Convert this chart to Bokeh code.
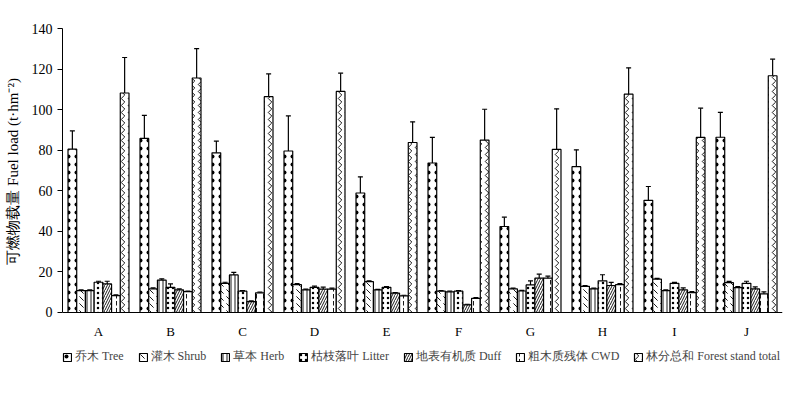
from bokeh.plotting import figure
from bokeh.models import ColumnDataSource, FactorRange, Whisker, TeeHead, Legend, LegendItem, FixedTicker
from bokeh.transform import dodge
from bokeh.embed import file_html
from bokeh.resources import INLINE

cats = ["A", "B", "C", "D", "E", "F", "G", "H", "I", "J"]

tree = [80.5, 85.8, 78.7, 79.6, 58.9, 73.7, 42.4, 71.9, 55.3, 86.4]
tree_err = [9.0, 11.4, 5.8, 17.3, 8.0, 12.6, 4.6, 8.3, 6.8, 12.3]
shrub = [10.8, 11.6, 14.4, 13.7, 15.2, 10.5, 11.6, 12.9, 16.4, 14.7]
shrub_err = [0.3, 0.5, 0.5, 0.5, 0.4, 0.3, 0.4, 0.4, 0.4, 0.6]
herb = [10.8, 16.0, 18.5, 11.1, 11.1, 10.2, 10.6, 11.6, 10.8, 12.3]
herb_err = [0.3, 0.6, 1.3, 0.4, 0.3, 0.3, 0.3, 0.4, 0.3, 0.4]
litter = [14.9, 12.4, 10.5, 12.4, 12.4, 10.5, 13.6, 15.6, 14.4, 14.4]
litter_err = [0.5, 1.7, 0.3, 0.6, 0.4, 0.3, 2.0, 3.0, 0.4, 1.0]
duff = [14.1, 11.1, 5.4, 11.5, 9.5, 3.8, 16.9, 13.3, 11.1, 11.6]
duff_err = [1.3, 0.5, 0.3, 1.0, 0.3, 0.2, 2.0, 1.5, 1.0, 1.0]
cwd = [8.3, 10.3, 9.7, 11.5, 8.2, 7.0, 16.9, 13.7, 9.8, 9.2]
cwd_err = [0.4, 0.3, 0.3, 0.5, 0.3, 0.3, 1.0, 0.5, 0.5, 1.0]
total = [108.2, 115.6, 106.4, 109.0, 83.8, 85.0, 80.4, 107.6, 86.3, 116.7]
total_err = [17.5, 14.5, 11.2, 9.0, 10.2, 15.2, 20.0, 13.0, 14.4, 8.2]

series_names = ["乔木 Tree", "灌木 Shrub", "草本 Herb", "枯枝落叶 Litter",
                "地表有机质 Duff", "粗木质残体 CWD", "林分总和 Forest stand total"]
series_vals = [tree, shrub, herb, litter, duff, cwd, total]
series_errs = [tree_err, shrub_err, herb_err, litter_err, duff_err, cwd_err, total_err]
y_ticks = [0, 20, 40, 60, 80, 100, 120, 140]

patterns = ["dot", "left_diagonal_dash", "vertical_line", "dot",
            "right_diagonal_line", "vertical_dash", "vertical_wave"]
scales = [8, 7, 4, 5, 5, 7, 7]
weights = [0.5, 0.9, 0.9, 0.5, 0.9, 0.9, 0.9]

SERIF = "Liberation Serif"

p = figure(x_range=FactorRange(factors=cats, range_padding=0), y_range=(-28.6, 140),
           width=800, height=395, output_backend="svg", toolbar_location=None,
           min_border_left=62, min_border_top=28, min_border_right=18, min_border_bottom=25)
p.outline_line_color = None
p.grid.grid_line_color = None

bw = 0.121
items = []
for i, (name, vals, errs) in enumerate(zip(series_names, series_vals, series_errs)):
    src = ColumnDataSource(dict(x=cats, y=vals,
                                upper=[v + e for v, e in zip(vals, errs)],
                                lower=[v - e for v, e in zip(vals, errs)]))
    off = (i - 3) * bw
    r = p.vbar(x=dodge("x", off, range=p.x_range), top="y", bottom=0, width=bw, source=src,
               fill_color="white", line_color="black", line_width=1.2,
               hatch_pattern=patterns[i], hatch_color="black", hatch_weight=weights[i],
               hatch_scale=scales[i])
    w = Whisker(base=dodge("x", off, range=p.x_range), upper="upper", lower="lower",
                source=src, line_color="black", line_width=1.2,
                upper_head=TeeHead(size=5, line_width=1.2, line_color="black"),
                lower_head=TeeHead(size=5, line_width=1.2, line_color="black"))
    p.add_layout(w)
    items.append(LegendItem(label=name, renderers=[r]))

p.yaxis.ticker = FixedTicker(ticks=y_ticks)
p.yaxis.bounds = (0, 140)
p.yaxis.axis_label = "\u00a0" * 15 + "可燃物载量 Fuel load (t·hm⁻²)"
p.yaxis.axis_label_text_font = SERIF
p.yaxis.axis_label_text_font_style = "normal"
p.yaxis.axis_label_text_font_size = "15px"
p.yaxis.axis_label_text_color = "black"
p.yaxis.axis_label_standoff = 8
p.yaxis.major_label_text_font = SERIF
p.yaxis.major_label_text_font_size = "14px"
p.yaxis.major_tick_out = 5
p.yaxis.major_tick_in = 0
p.yaxis.minor_tick_line_color = None
p.yaxis.axis_line_color = "black"
p.yaxis.major_tick_line_color = "black"
p.yaxis.major_label_text_color = "black"

p.xaxis.fixed_location = 0
p.xaxis.major_tick_out = 0
p.xaxis.major_tick_in = 0
p.xaxis.major_tick_line_color = None
p.xaxis.minor_tick_line_color = None
p.xaxis.major_label_text_font = SERIF
p.xaxis.major_label_text_font_size = "13px"
p.xaxis.major_label_standoff = 12
p.xaxis.axis_line_color = "black"
p.xaxis.major_label_text_color = "black"

legend = Legend(items=items, orientation="horizontal", location=(0, 5),
                glyph_width=10, glyph_height=10, label_standoff=3, spacing=14,
                label_text_font=SERIF, label_text_font_size="12px",
                padding=2, margin=0, border_line_color=None, background_fill_alpha=0)
p.add_layout(legend, "center")

open("out.html", "w").write(file_html(p, INLINE))
